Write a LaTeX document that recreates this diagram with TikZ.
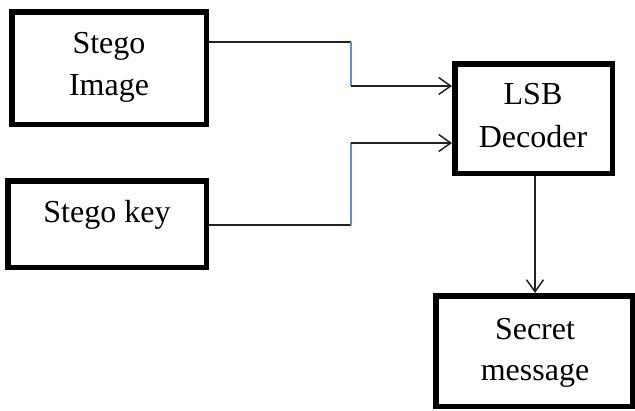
\documentclass[tikz,border=0pt]{standalone}
\usepackage{fontspec}
\setmainfont{Liberation Serif}
\usetikzlibrary{arrows.meta}
\definecolor{vline}{HTML}{5B8FD6}
\definecolor{hline}{HTML}{222222}
\begin{document}
\begin{tikzpicture}[x=1pt,y=-1pt,
  blk/.style={draw=black,line width=5.5pt,fill=white,inner sep=0pt,minimum width=#1},
  txt/.style={anchor=base,inner sep=0pt,font=\fontsize{32}{42}\selectfont},
  hcon/.style={draw=hline,line width=1.5pt},
  vcon/.style={draw=vline,line width=1.5pt},
  tip/.style={-{Straight Barb[length=12pt,width=17pt,line width=1.5pt]}}]
\useasboundingbox (0,0) rectangle (635,410);
% boxes (path size = outer size - line width)
\node[blk=194.5pt,minimum height=112.5pt] (img) at (109,68) {};
\node[blk=198.5pt,minimum height=86.5pt] (key) at (107,224) {};
\node[blk=157.5pt,minimum height=109.5pt] (lsb) at (533.5,118.5) {};
\node[blk=196.5pt,minimum height=110.5pt] (sec) at (534,351) {};
% texts
\node[txt] (imgA) at (109,53) {Stego};
\node[txt] (imgB) at (109,95) {Image};
\node[txt] (keyA) at (107,222) {Stego key};
\node[txt] (lsbA) at (533,104) {LSB};
\node[txt] (lsbB) at (533,147) {Decoder};
\node[txt] (secA) at (535,339) {Secret};
\node[txt] (secB) at (535,380) {message};
% connector corners
\coordinate (j1) at (351,42);
\coordinate (j2) at (351,86);
\coordinate (j3) at (351,143);
\coordinate (j4) at (351,225);
% connectors
\draw[hcon] (img.east |- j1) -- (j1);
\draw[vcon] (j1) -- (j2);
\draw[hcon,tip] (j2) -- (lsb.west |- j2);
\draw[hcon] (key.east |- j4) -- (j4);
\draw[vcon] (j4) -- (j3);
\draw[hcon,tip] (j3) -- (lsb.west |- j3);
\draw[hcon,tip] (lsb.south -| 535,0) -- (sec.north -| 535,0);
\end{tikzpicture}
\end{document}
